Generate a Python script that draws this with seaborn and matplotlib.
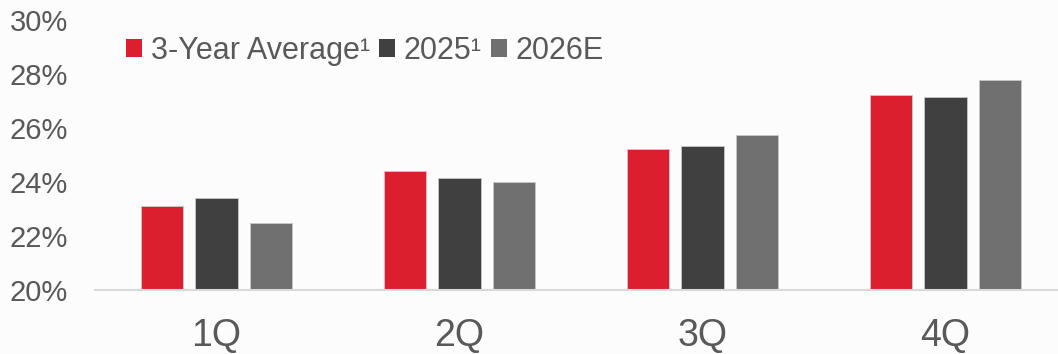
import matplotlib
matplotlib.use("Agg")
import matplotlib.pyplot as plt
import seaborn as sns
import pandas as pd
from matplotlib.patches import Patch
from matplotlib.ticker import FuncFormatter

quarters = ["1Q", "2Q", "3Q", "4Q"]
series_names = ["3-Year Average", "2025", "2026E"]
legend_labels = ["3-Year Average\u00b9", "2025\u00b9", "2026E"]
avg_3yr = [23.12, 24.42, 25.22, 27.22]
y2025 = [23.40, 24.15, 25.32, 27.14]
y2026e = [22.47, 23.99, 25.75, 27.77]
yticks = [20, 22, 24, 26, 28, 30]
colors = ["#dc1f2e", "#404040", "#707070"]

rows = []
for name, vals in zip(series_names, [avg_3yr, y2025, y2026e]):
    for q, v in zip(quarters, vals):
        rows.append({"quarter": q, "series": name, "value": v})
df = pd.DataFrame(rows)

sns.set_style("white")
plt.rcParams["font.family"] = ["Liberation Sans", "DejaVu Sans"]

bg = "#fcfcfc"
fig = plt.figure(figsize=(10.58, 3.54), dpi=100, facecolor=bg)
ax = fig.add_axes([95 / 1058, (354 - 290) / 354, 972 / 1058, 270 / 354])
ax.set_facecolor(bg)

sns.barplot(data=df, x="quarter", y="value", hue="series", hue_order=series_names,
            order=quarters, palette=colors, width=0.667, gap=0.222, ax=ax,
            legend=False, saturation=1, edgecolor="#c8c8c8", linewidth=0.6)

ax.set_ylim(20, 30)
ax.set_xlim(-0.5, 3.5)
ax.set_yticks(yticks)
ax.yaxis.set_major_formatter(FuncFormatter(lambda v, p: f"{v:.0f}%"))
for s in ["top", "right", "left"]:
    ax.spines[s].set_visible(False)
ax.spines["bottom"].set_color("#d9d9d9")
ax.spines["bottom"].set_linewidth(1.5)
ax.tick_params(axis="y", length=0, pad=19.5, labelsize=21, labelcolor="#595959")
ax.tick_params(axis="x", length=0, pad=20, labelsize=27, labelcolor="#595959")
ax.set_xlabel("")
ax.set_ylabel("")

handles = [Patch(facecolor=c, edgecolor="none") for c in colors]
leg = fig.legend(handles, legend_labels, loc="center left", bbox_to_anchor=(126 / 1058, 1 - 51 / 354),
                 ncol=3, frameon=False, fontsize=22, handlelength=0.52, handleheight=0.52,
                 handletextpad=0.29, columnspacing=0.3, borderaxespad=0, borderpad=0)
for t in leg.get_texts():
    t.set_color("#595959")

fig.savefig("out.png", dpi=100, facecolor=bg)
